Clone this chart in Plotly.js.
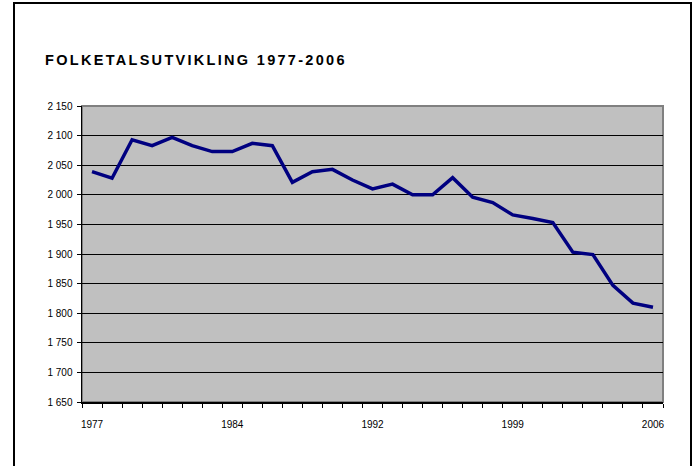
<!DOCTYPE html>
<html>
<head>
<meta charset="utf-8">
<script src="https://cdn.plot.ly/plotly-3.0.1.min.js"></script>
<style>
  body { margin: 0; background: #fff; }
  #chart { width: 696px; height: 466px; }
  #chart .gtitle { letter-spacing: 2.3px; }
</style>
</head>
<body>
<div id="chart"></div>
<script>
// years on the category axis (one year is missing between 1984 and 1992)
const years = [1977, 1978, 1979, 1980, 1981, 1982, 1983, 1984, 1985,
  1987, 1988, 1989, 1990, 1991, 1992, 1993, 1994, 1995, 1996, 1997,
  1998, 1999, 2000, 2001, 2002, 2003, 2004, 2005, 2006];
const folketal = [2039, 2028, 2093, 2083, 2097, 2083, 2073, 2073, 2087,
  2083, 2021, 2039, 2043, 2025, 2010, 2018, 2000, 2000, 2029, 1996,
  1987, 1966, 1960, 1953, 1903, 1899, 1847, 1817, 1810];
const labelIdx = [0, 7, 14, 21, 28];
const yTicks = [1650, 1700, 1750, 1800, 1850, 1900, 1950, 2000, 2050, 2100, 2150];

const W = 696, H = 466;
const m = {l: 82, r: 33, t: 106, b: 64};
const pw = W - m.l - m.r, ph = H - m.t - m.b;
const px = v => (v - m.l) / pw;
const py = v => (H - m.b - v) / ph;

const idx = years.map((y, i) => i);

const trace = {
  x: idx,
  y: folketal,
  type: 'scatter',
  mode: 'lines',
  line: {color: '#000080', width: 3.5},
  hoverinfo: 'skip'
};

const layout = {
  width: W,
  height: H,
  margin: m,
  paper_bgcolor: '#ffffff',
  plot_bgcolor: '#c0c0c0',
  showlegend: false,
  font: {family: 'Arial, "Liberation Sans", sans-serif', size: 10, color: '#000'},
  title: {
    text: '<b>FOLKETALSUTVIKLING 1977-2006</b>',
    font: {size: 14.5, color: '#000'},
    xref: 'container', yref: 'container',
    x: 45 / W, xanchor: 'left',
    y: 1 - 60 / H, yanchor: 'middle'
  },
  xaxis: {
    range: [-0.5, years.length - 0.5],
    tickvals: labelIdx,
    ticktext: labelIdx.map(i => String(years[i])),
    ticks: 'outside', ticklen: 4, tickcolor: 'rgba(0,0,0,0)',
    ticklabelstandoff: 8,
    minor: {tick0: -0.5, dtick: 1, ticks: 'outside', ticklen: 4, tickcolor: '#000', showgrid: false},
    showgrid: false, zeroline: false,
    showline: true, linecolor: '#000', linewidth: 2,
    fixedrange: true
  },
  yaxis: {
    range: [1650, 2150],
    tickvals: yTicks,
    ticktext: yTicks.map(v => String(v).slice(0, 1) + ' ' + String(v).slice(1)),
    ticks: 'outside', ticklen: 4, tickcolor: '#000',
    ticklabelstandoff: 2,
    showgrid: true, gridcolor: '#000', gridwidth: 1,
    zeroline: false,
    showline: true, linecolor: '#000', linewidth: 1.5,
    fixedrange: true
  },
  shapes: [
    {type: 'rect', xref: 'paper', yref: 'paper', x0: 0, x1: 1, y0: 0, y1: 1,
      line: {color: '#808080', width: 2}, layer: 'below'},
    {type: 'rect', xref: 'paper', yref: 'paper',
      x0: px(14), x1: px(691), y0: py(470), y1: py(3),
      line: {color: '#000', width: 2}}
  ]
};

Plotly.newPlot('chart', [trace], layout, {staticPlot: true});
</script>
</body>
</html>
